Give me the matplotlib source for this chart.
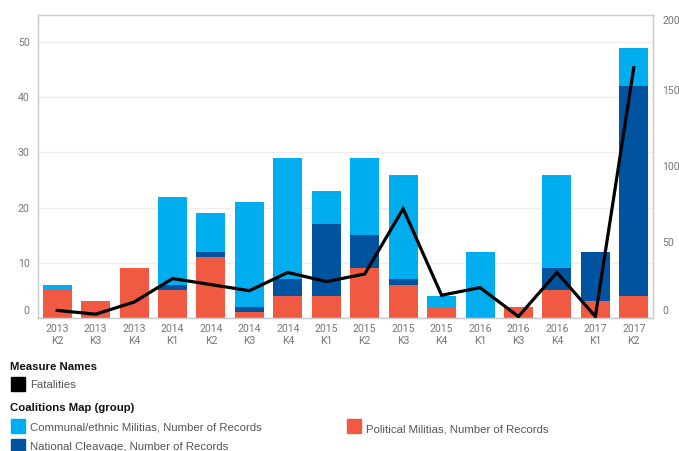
import numpy as np
import matplotlib
matplotlib.use('Agg')
import matplotlib.pyplot as plt
import matplotlib.transforms as mtransforms
from matplotlib.patches import Rectangle


quarters = ['2013\nK2', '2013\nK3', '2013\nK4', '2014\nK1', '2014\nK2', '2014\nK3',
            '2014\nK4', '2015\nK1', '2015\nK2', '2015\nK3', '2015\nK4', '2016\nK1',
            '2016\nK3', '2016\nK4', '2017\nK1', '2017\nK2']

political = [5, 3, 9, 5, 11, 1, 4, 4, 9, 6, 2, 0, 2, 5, 3, 4]
national = [0, 0, 0, 1, 1, 1, 3, 13, 6, 1, 0, 0, 0, 4, 9, 38]
communal = [1, 0, 0, 16, 7, 19, 22, 6, 14, 19, 2, 12, 0, 17, 0, 7]
fatalities = [5, 2.5, 10.5, 26, 22, 18, 30, 24, 29, 72, 15, 20, 1, 30, 1, 165]

C_COMM = '#00adef'
C_NAT = '#00549f'
C_POL = '#f05a43'
GRAY = '#777777'
TICK_FS = 7.6

fig = plt.figure(figsize=(6.79, 4.51), dpi=100)
ax = fig.add_axes([38 / 679, 133 / 451, 615 / 679, 303.5 / 451])

x = np.arange(len(quarters))
pol = np.array(political)
nat = np.array(national)
com = np.array(communal)
w = 0.755
ax.bar(x, pol, w, color=C_POL, zorder=2)
ax.bar(x, nat, w, bottom=pol, color=C_NAT, zorder=2)
ax.bar(x, com, w, bottom=pol + nat, color=C_COMM, zorder=2)

ax.set_xlim(-0.5, len(quarters) - 0.5)
ax.set_ylim(0, 55)
ax.set_yticks([0, 10, 20, 30, 40, 50])
ax.set_xticks(x)
ax.set_xticklabels(quarters, linespacing=1.35)
ax.grid(axis='y', color='#eeeeee', linewidth=1, zorder=0)
for s in ax.spines.values():
    s.set_color('#cccccc')
    s.set_linewidth(1)
ax.tick_params(axis='both', length=0, labelcolor=GRAY, labelsize=TICK_FS)
ax.tick_params(axis='y', pad=6)
ax.tick_params(axis='x', pad=4)

ax2 = ax.twinx()
ax2.plot(x, fatalities, color='black', linewidth=2.3, zorder=5,
         solid_joinstyle='miter')
ax2.set_ylim(0, 200)
ax2.set_yticks([0, 50, 100, 150, 200])
ax2.tick_params(axis='y', length=0, labelcolor=GRAY, labelsize=TICK_FS, pad=6.5)
for s in ax2.spines.values():
    s.set_color('#cccccc')

for a in (ax, ax2):
    for lab in a.get_xticklabels() + a.get_yticklabels():
        lab.set_family(['Roboto', 'DejaVu Sans'])

# keep the end labels inside the plot box
up = mtransforms.ScaledTranslation(0, 8 / 100, fig.dpi_scale_trans)
down = mtransforms.ScaledTranslation(0, -5 / 100, fig.dpi_scale_trans)
for lab in (ax.get_yticklabels()[0], ax2.get_yticklabels()[0]):
    lab.set_transform(lab.get_transform() + up)
top = ax2.get_yticklabels()[-1]
top.set_transform(top.get_transform() + down)

# legend
fam = ['Liberation Sans', 'DejaVu Sans']
FS = 8.2
H = 451


def fy(py):
    return (H - py) / H


def swatch(px, py, color):
    fig.patches.append(Rectangle((px / 679, fy(py + 14)), 14 / 679, 14 / H,
                                 transform=fig.transFigure, color=color))


fig.text(10 / 679, fy(370), 'Measure Names', fontsize=FS, weight='bold',
         family=fam, color='#111111')
swatch(11, 377, 'black')
fig.text(30 / 679, fy(388), 'Fatalities', fontsize=FS, family=fam, color='#555555')

fig.text(10 / 679, fy(411), 'Coalitions Map (group)', fontsize=FS, weight='bold',
         family=fam, color='#111111')
swatch(11, 419, C_COMM)
fig.text(30 / 679, fy(430), 'Communal/ethnic Militias, Number of Records',
         fontsize=FS, family=fam, color='#555555')
swatch(11, 439, C_NAT)
fig.text(30 / 679, fy(450), 'National Cleavage, Number of Records',
         fontsize=FS, family=fam, color='#555555')
swatch(347, 419, C_POL)
fig.text(366 / 679, fy(432), 'Political Militias, Number of Records',
         fontsize=FS, family=fam, color='#555555')

fig.savefig('out.png', dpi=100)
